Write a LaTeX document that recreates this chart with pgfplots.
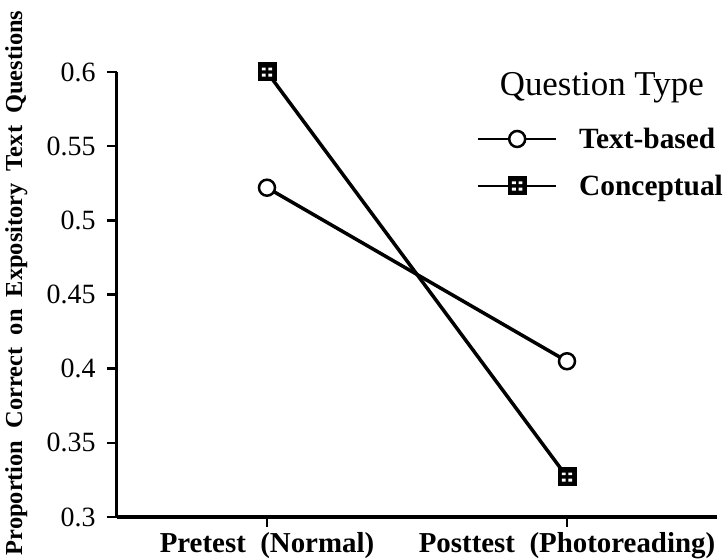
\documentclass[border=0pt]{standalone}
\usepackage{fontspec}
\setmainfont{Liberation Serif}
\usepackage{pgfplots}
\pgfplotsset{compat=1.18}

\pgfdeclareplotmark{boxplus}{%
  \pgfpathrectangle{\pgfqpoint{-\pgfplotmarksize}{-\pgfplotmarksize}}{\pgfqpoint{2\pgfplotmarksize}{2\pgfplotmarksize}}%
  \pgfsetfillcolor{black}\pgfusepathqfill
  \pgfsetfillcolor{white}%
  \pgfpathrectangle{\pgfqpoint{-0.55\pgfplotmarksize}{0.18\pgfplotmarksize}}{\pgfqpoint{0.4\pgfplotmarksize}{0.28\pgfplotmarksize}}%
  \pgfpathrectangle{\pgfqpoint{0.15\pgfplotmarksize}{0.18\pgfplotmarksize}}{\pgfqpoint{0.4\pgfplotmarksize}{0.28\pgfplotmarksize}}%
  \pgfpathrectangle{\pgfqpoint{-0.55\pgfplotmarksize}{-0.5\pgfplotmarksize}}{\pgfqpoint{0.4\pgfplotmarksize}{0.32\pgfplotmarksize}}%
  \pgfpathrectangle{\pgfqpoint{0.15\pgfplotmarksize}{-0.5\pgfplotmarksize}}{\pgfqpoint{0.4\pgfplotmarksize}{0.32\pgfplotmarksize}}%
  \pgfusepathqfill
}

\begin{document}
\begin{tikzpicture}
\useasboundingbox (-117bp,-42bp) rectangle (607bp,517bp);
\begin{axis}[
  at={(0,0)}, anchor=south west,
  scale only axis, width=600bp, height=445bp,
  xmin=-0.5, xmax=1.5, ymin=0.3, ymax=0.6,
  axis lines=left,
  axis line style={-, line width=3bp},
  xtick={0,1},
  xticklabels={Pretest\ \ (Normal), Posttest\ \ (Photoreading)},
  ytick={0.3,0.35,0.4,0.45,0.5,0.55,0.6},
  yticklabels={0.3,0.35,0.4,0.45,0.5,0.55,0.6},
  tick align=outside,
  major tick length=10bp,
  tick style={line width=2.5bp, black},
  x tick label style={font=\bfseries\fontsize{29}{29}\selectfont, yshift=-2bp},
  y tick label style={font=\fontsize{28}{28}\selectfont, xshift=-8bp},
  /pgf/number format/assume math mode=true,
  ylabel={Proportion\ \ Correct\ \ on\ \ Expository\ \ Text\ \ Questions},
  ylabel style={font=\bfseries\fontsize{24.5}{24.5}\selectfont, at={(axis description cs:-0.168,0.526)}, anchor=center},
  clip=false,
  legend style={draw=none, fill=none, at={(rel axis cs:0.60,0.879)}, anchor=north west,
    font=\bfseries\fontsize{29.5}{29.5}\selectfont, row sep=21bp, column sep=20bp, inner sep=0pt,
    cells={anchor=west}},
  legend image code/.code={\draw[mark repeat=2,mark phase=2,#1,line width=2bp] plot coordinates {(0bp,0bp) (39bp,0bp) (78bp,0bp)};},
]
\addplot[black, line width=3.5bp, mark=*, mark size=8bp, mark options={fill=white, line width=2.5bp}]
  coordinates {(0,0.522) (1,0.405)};
\addlegendentry{Text-based}
\addplot[black, line width=3.5bp, mark=boxplus, mark size=9.5bp]
  coordinates {(0,0.600) (1,0.327)};
\addlegendentry{Conceptual}
\node[font=\fontsize{35}{35}\selectfont, anchor=base] at (rel axis cs:0.808,0.948) {Question Type};
\end{axis}
\end{tikzpicture}
\end{document}
